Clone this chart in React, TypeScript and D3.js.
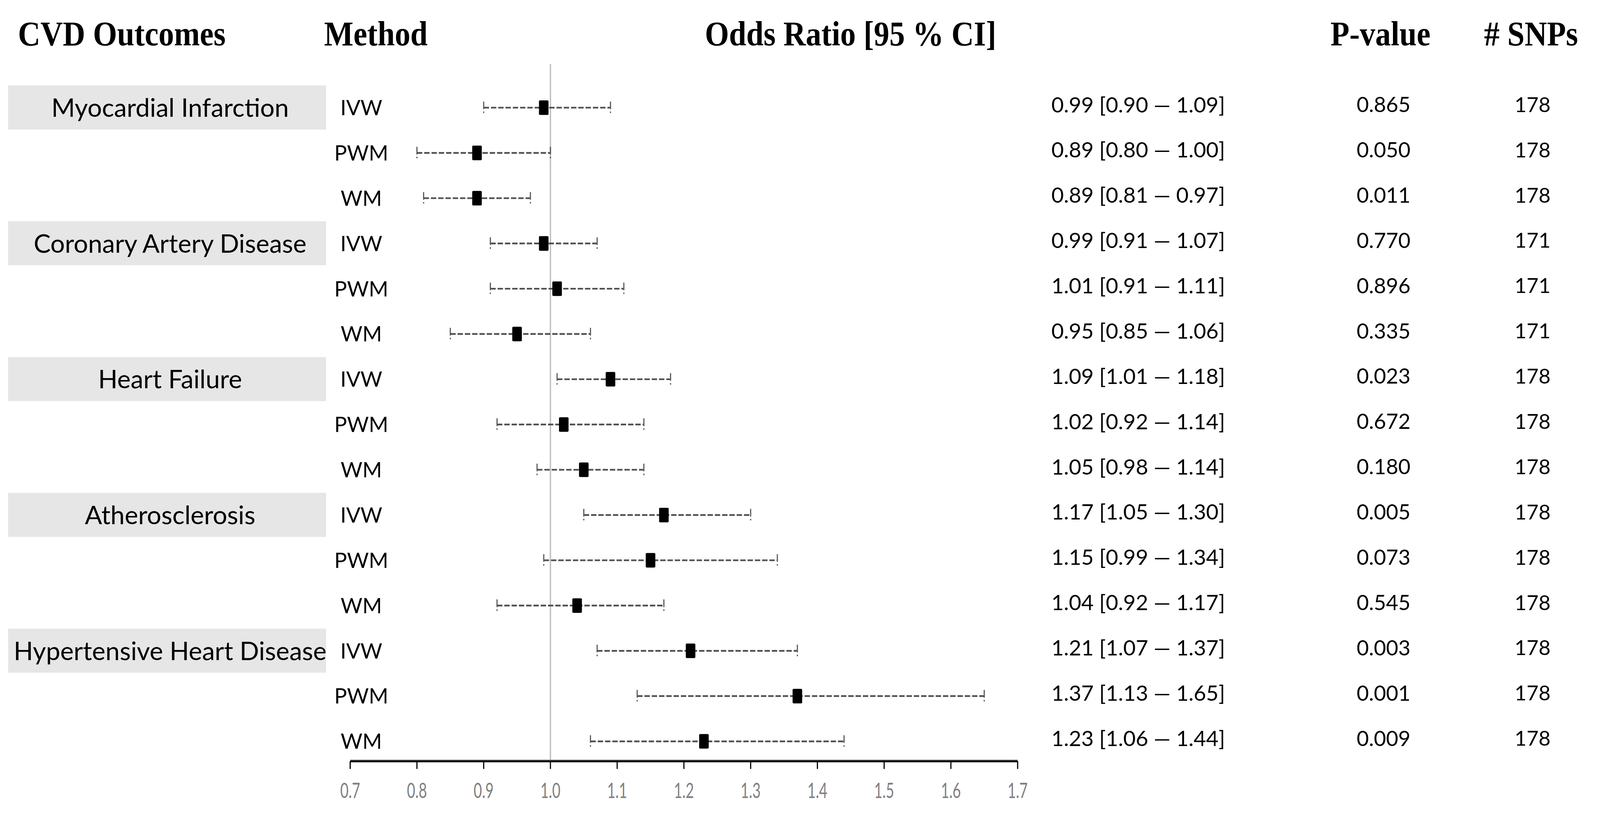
import * as d3 from 'd3';

// ---- data ----
const outcomes = [
  'Myocardial Infarction',
  'Coronary Artery Disease',
  'Heart Failure',
  'Atherosclerosis',
  'Hypertensive Heart Disease',
];
const methods = ['IVW', 'PWM', 'WM'];

const oddsRatio = [0.99, 0.89, 0.89, 0.99, 1.01, 0.95, 1.09, 1.02, 1.05, 1.17, 1.15, 1.04, 1.21, 1.37, 1.23];
const ciLow = [0.9, 0.8, 0.81, 0.91, 0.91, 0.85, 1.01, 0.92, 0.98, 1.05, 0.99, 0.92, 1.07, 1.13, 1.06];
const ciHigh = [1.09, 1.0, 0.97, 1.07, 1.11, 1.06, 1.18, 1.14, 1.14, 1.3, 1.34, 1.17, 1.37, 1.65, 1.44];
const pValues = ['0.865', '0.050', '0.011', '0.770', '0.896', '0.335', '0.023', '0.672', '0.180', '0.005', '0.073', '0.545', '0.003', '0.001', '0.009'];
const snpCounts = [178, 178, 178, 171, 171, 171, 178, 178, 178, 178, 178, 178, 178, 178, 178];

const xTicks = [0.7, 0.8, 0.9, 1.0, 1.1, 1.2, 1.3, 1.4, 1.5, 1.6, 1.7];
const headers = ['CVD Outcomes', 'Method', 'Odds Ratio [95 % CI]', 'P-value', '# SNPs'];

const W = 4176;
const H = 2130;
const SANS = 'Lato, "Open Sans", sans-serif';
const SERIF = '"Liberation Serif", "Times New Roman", serif';

export default function App() {
  const rows = d3.range(oddsRatio.length);
  const x = d3.scaleLinear().domain([0.7, 1.7]).range([914, 2656]);
  const y = d3.scaleLinear().domain([0, rows.length - 1]).range([281, 1935]);
  const axisY = 1987;
  const tableShift = -8; // table text sits a little above the marks
  const fmt = d3.format('.2f');
  const tickFmt = d3.format('.1f');

  // header centres
  const headerX = [318, 981, 2220, 3603, 3996];

  return (
    <svg
      viewBox={`0 0 ${W} ${H}`}
      preserveAspectRatio="xMidYMin meet"
      style={{
        position: 'fixed',
        left: 0,
        top: 0,
        width: '100vw',
        height: '100vh',
        display: 'block',
        background: '#fff',
      }}
    >
      {/* headers */}
      {headers.map((h, i) => (
        <g key={h} transform={`translate(${headerX[i]},118) scale(0.9,1)`}>
          <text textAnchor="middle" fontFamily={SERIF} fontWeight="bold" fontSize={90} fill="#000">
            {h}
          </text>
        </g>
      ))}

      {/* outcome boxes */}
      {outcomes.map((o, gi) => {
        const cy = y(gi * methods.length);
        return (
          <g key={o}>
            <rect x={21} y={cy - 58} width={830} height={115} fill="#e6e6e6" />
            <text
              x={444}
              y={cy}
              dy="0.36em"
              textAnchor="middle"
              fontFamily={SANS}
              fontSize={66.5}
              fill="#000"
            >
              {o}
            </text>
          </g>
        );
      })}

      {/* reference line at OR = 1 */}
      <line x1={x(1)} x2={x(1)} y1={167} y2={axisY} stroke="#bfbfbf" strokeWidth={3.5} />

      {/* rows */}
      {rows.map((i) => {
        const cy = y(i);
        const ty = cy + tableShift;
        return (
          <g key={i}>
            <text
              x={943}
              y={cy}
              dy="0.36em"
              textAnchor="middle"
              fontFamily={SANS}
              fontSize={55}
              fill="#000"
            >
              {methods[i % methods.length]}
            </text>
            <line
              x1={x(ciLow[i])}
              x2={x(ciHigh[i])}
              y1={cy}
              y2={cy}
              stroke="#505050"
              strokeWidth={4.5}
              strokeDasharray="14,5"
            />
            {[ciLow[i], ciHigh[i]].map((v, k) => (
              <line
                key={k}
                x1={x(v)}
                x2={x(v)}
                y1={cy - 16}
                y2={cy + 14}
                stroke="#5a5a5a"
                strokeWidth={3}
                strokeDasharray="20,6,4"
              />
            ))}
            <rect x={x(oddsRatio[i]) - 12.5} y={cy - 19} width={25} height={38} rx={3} fill="#000" />
            <text x={2744} y={ty} dy="0.36em" fontFamily={SANS} fontSize={56} fill="#000">
              {`${fmt(oddsRatio[i])} [${fmt(ciLow[i])} \u2014 ${fmt(ciHigh[i])}]`}
            </text>
            <text
              x={3611}
              y={ty}
              dy="0.36em"
              textAnchor="middle"
              fontFamily={SANS}
              fontSize={55}
              fill="#000"
            >
              {pValues[i]}
            </text>
            <text
              x={4000}
              y={ty}
              dy="0.36em"
              textAnchor="middle"
              fontFamily={SANS}
              fontSize={54}
              fill="#000"
            >
              {snpCounts[i]}
            </text>
          </g>
        );
      })}

      {/* x axis */}
      <line x1={x(0.7)} x2={x(1.7)} y1={axisY - 3} y2={axisY - 3} stroke="#9a9a9a" strokeWidth={3} />
      <line x1={x(0.7)} x2={x(1.7)} y1={axisY} y2={axisY} stroke="#000" strokeWidth={5} />
      {xTicks.map((t) => (
        <g key={t}>
          <line x1={x(t)} x2={x(t)} y1={axisY} y2={axisY + 20} stroke="#000" strokeWidth={3} />
          <g transform={`translate(${x(t)},2083) scale(0.68,1)`}>
            <text textAnchor="middle" fontFamily={SANS} fontSize={55} fill="#808080">
              {tickFmt(t)}
            </text>
          </g>
        </g>
      ))}
    </svg>
  );
}
